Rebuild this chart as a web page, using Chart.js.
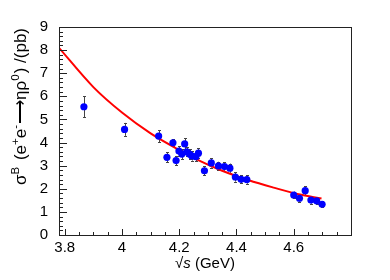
<!DOCTYPE html>
<html>
<head>
<meta charset="utf-8">
<script src="https://cdn.jsdelivr.net/npm/chart.js@4/dist/chart.umd.min.js"></script>
<style>
  body { margin: 0; background: #fff; }
  canvas { display: block; }
</style>
</head>
<body>
<canvas id="myChart" width="390" height="280"></canvas>
<script>
/* data */
const energies = [3.867, 4.009, 4.128, 4.157, 4.178, 4.189, 4.199, 4.209, 4.219, 4.226, 4.236, 4.244, 4.258, 4.267, 4.288, 4.312, 4.337, 4.358, 4.377, 4.396, 4.416, 4.436, 4.600, 4.620, 4.640, 4.660, 4.680, 4.699];
const sigmas = [5.55, 4.57, 4.28, 3.36, 3.99, 3.22, 3.63, 3.50, 3.94, 3.60, 3.50, 3.42, 3.39, 3.54, 2.78, 3.12, 2.99, 2.96, 2.89, 2.51, 2.41, 2.40, 1.73, 1.59, 1.92, 1.51, 1.48, 1.33];
const sigmaErrs = [0.45, 0.28, 0.26, 0.22, 0.16, 0.2, 0.2, 0.22, 0.25, 0.2, 0.2, 0.2, 0.2, 0.22, 0.2, 0.2, 0.18, 0.18, 0.2, 0.2, 0.18, 0.18, 0.15, 0.15, 0.2, 0.15, 0.15, 0.12];

/* fit curve, read at a few energies */
const fitX = [3.78, 3.9, 4.0, 4.1, 4.2, 4.27, 4.35, 4.443, 4.53, 4.617, 4.697];
const fitY = [8.1, 6.4, 5.3, 4.4, 3.68, 3.22, 2.78, 2.37, 2.05, 1.76, 1.58];

const xTickValues = [3.8, 4.0, 4.2, 4.4, 4.6];
const yTickValues = [0, 1, 2, 3, 4, 5, 6, 7, 8, 9];

const FONT = "'Liberation Sans', Arial, Helvetica, sans-serif";

/* error bars under the markers */
const errorBars = {
  id: "errorBars",
  beforeDatasetsDraw(chart) {
    const { ctx, scales } = chart;
    ctx.save();
    ctx.strokeStyle = "#444";
    ctx.lineWidth = 1;
    energies.forEach((e, i) => {
      const x = Math.round(scales.x.getPixelForValue(e)) + 0.5;
      const yLo = scales.y.getPixelForValue(sigmas[i] - sigmaErrs[i]);
      const yHi = scales.y.getPixelForValue(sigmas[i] + sigmaErrs[i]);
      ctx.beginPath();
      ctx.moveTo(x, yLo);
      ctx.lineTo(x, yHi);
      ctx.moveTo(x - 1.5, Math.round(yLo) + 0.5);
      ctx.lineTo(x + 1.5, Math.round(yLo) + 0.5);
      ctx.moveTo(x - 1.5, Math.round(yHi) + 0.5);
      ctx.lineTo(x + 1.5, Math.round(yHi) + 0.5);
      ctx.stroke();
    });
    ctx.restore();
  },
};

/* text with superscripts / italics, drawn piece by piece */
const measurePieces = (ctx, pieces, size) => {
  let w = 0;
  pieces.forEach((p) => {
    ctx.font = (p.it ? "italic " : "") + (p.sup ? size * 0.68 : size) + "px " + FONT;
    p.w = ctx.measureText(p.t).width + (p.gap || 0);
    w += p.w;
  });
  return w;
};

const frameAndTitles = {
  id: "frameAndTitles",
  afterDraw(chart) {
    const { ctx, chartArea: a, scales } = chart;
    ctx.save();

    /* frame */
    ctx.strokeStyle = "#222";
    ctx.lineWidth = 1;
    ctx.strokeRect(a.left + 0.5, a.top + 0.5, a.right - a.left, a.bottom - a.top);

    /* ticks inside the frame */
    ctx.beginPath();
    for (let v = 0; v <= 9.001; v += 0.2) {
      const y = Math.round(scales.y.getPixelForValue(v)) + 0.5;
      const major = Math.abs(v - Math.round(v)) < 0.01;
      ctx.moveTo(a.left, y);
      ctx.lineTo(a.left + (major ? 8 : 4), y);
    }
    for (let v = 3.8; v <= 4.8; v += 0.05) {
      const x = Math.round(scales.x.getPixelForValue(v)) + 0.5;
      const major = Math.abs(v * 5 - Math.round(v * 5)) < 0.01;
      ctx.moveTo(x, a.bottom);
      ctx.lineTo(x, a.bottom - (major ? 6 : 3));
    }
    ctx.stroke();

    /* y title */
    const size = 17;
    const yPieces = [
      { t: "σ" }, { t: "B", sup: true, gap: 2 }, { t: " (e" }, { t: "+", sup: true },
      { t: "e" }, { t: "-", sup: true, gap: 1 }, { t: "⟶ηρ" }, { t: "0", sup: true, gap: 1 },
      { t: ") /(pb)" },
    ];
    const yw = measurePieces(ctx, yPieces, size);
    ctx.fillStyle = "#000";
    ctx.textBaseline = "alphabetic";
    ctx.translate(26, a.top + 1 + yw);
    ctx.rotate(-Math.PI / 2);
    let cx = 0;
    yPieces.forEach((p) => {
      ctx.font = (p.sup ? size * 0.68 : size) + "px " + FONT;
      ctx.fillText(p.t, cx, p.sup ? -7 : 0);
      cx += p.w;
    });
    ctx.setTransform(1, 0, 0, 1, 0, 0);

    /* x title */
    const xSize = 15;
    const xPieces = [{ t: "√" }, { t: "s", it: true }, { t: " (GeV)" }];
    const xw = measurePieces(ctx, xPieces, xSize);
    cx = (a.left + a.right) / 2 - xw / 2;
    xPieces.forEach((p) => {
      ctx.font = (p.it ? "italic " : "") + xSize + "px " + FONT;
      ctx.fillText(p.t, cx, 268);
      cx += p.w;
    });
    ctx.restore();
  },
};

document.addEventListener("DOMContentLoaded", () => {
  const ctx = document.getElementById("myChart");

  new Chart(ctx, {
    type: "scatter",
    data: {
      datasets: [
        {
          label: "data",
          data: energies.map((e, i) => ({ x: e, y: sigmas[i] })),
          backgroundColor: "#0000ff",
          borderColor: "#0000ff",
          pointRadius: 3.6,
          borderWidth: 0,
          order: 0,
        },
        {
          label: "fit",
          type: "line",
          data: fitX.map((e, i) => ({ x: e, y: fitY[i] })),
          borderColor: "#ff0000",
          borderWidth: 2,
          pointRadius: 0,
          fill: false,
          cubicInterpolationMode: "monotone",
          order: 1,
        },
      ],
    },
    options: {
      responsive: false,
      animation: false,
      devicePixelRatio: 1,
      layout: { padding: { left: 0, top: 27, right: 39, bottom: 0 } },
      plugins: { legend: { display: false }, tooltip: { enabled: false } },
      scales: {
        x: {
          type: "linear",
          min: 3.78,
          max: 4.8,
          grid: { display: false },
          border: { display: false },
          afterBuildTicks: (scale) => {
            scale.ticks = xTickValues.map((v) => ({ value: v }));
          },
          afterFit: (scale) => {
            scale.height = 45;
          },
          ticks: {
            color: "#000",
            font: { family: FONT, size: 15 },
            padding: -4,
            maxRotation: 0,
            callback: (v) => String(Math.round(v * 10) / 10),
          },
        },
        y: {
          min: 0,
          max: 9,
          grid: { display: false },
          border: { display: false },
          afterBuildTicks: (scale) => {
            scale.ticks = yTickValues.map((v) => ({ value: v }));
          },
          afterFit: (scale) => {
            scale.width = 59;
          },
          ticks: {
            color: "#000",
            font: { family: FONT, size: 15 },
            padding: 3,
          },
        },
      },
    },
    plugins: [errorBars, frameAndTitles],
  });
});
</script>
</body>
</html>
